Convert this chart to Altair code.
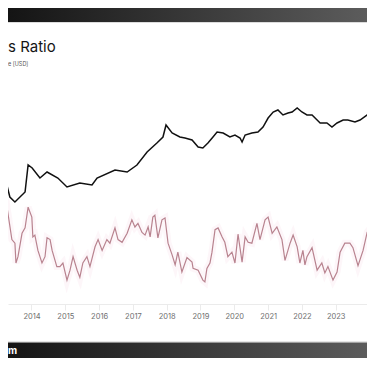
import altair as alt
import pandas as pd

# ---- data ----
price_year = [2013.07, 2013.27, 2013.36, 2013.51, 2013.81, 2013.90, 2014.02, 2014.25, 2014.46, 2014.78,
              2015.05, 2015.43, 2015.79, 2015.94, 2016.47, 2016.83, 2017.12, 2017.42, 2017.71, 2017.89,
              2017.98, 2018.16, 2018.39, 2018.54, 2018.75, 2018.93, 2019.07, 2019.22, 2019.37, 2019.49,
              2019.67, 2019.87, 2020.02, 2020.17, 2020.23, 2020.32, 2020.52, 2020.70, 2020.85, 2021.00,
              2021.15, 2021.29, 2021.44, 2021.59, 2021.71, 2021.86, 2022.00, 2022.15, 2022.30, 2022.45,
              2022.54, 2022.74, 2022.89, 2023.04, 2023.22, 2023.36, 2023.57, 2023.72, 2023.93, 2024.07,
              2024.16]
price_usd = [25, 232, 95, 66, 138, 1025, 820, 390, 610, 390,
             200, 269, 232, 390, 707, 610, 1025, 2692, 5250, 8200,
             20000, 11040, 8200, 7620, 6560, 3900, 3620, 5250, 8200, 11900,
             11040, 8200, 9510, 7620, 5660, 9510, 11040, 11900, 17200, 33600,
             52500, 61000, 42100, 48800, 52500, 70700, 52500, 42100, 42100, 29000,
             23200, 23200, 17200, 23200, 29000, 29000, 25000, 29000, 42100, 48800,
             70700]

ratio_year = [2013.07, 2013.16, 2013.28, 2013.30, 2013.42, 2013.51, 2013.54, 2013.60, 2013.72, 2013.81,
              2013.90, 2014.01, 2014.04, 2014.10, 2014.19, 2014.31, 2014.40, 2014.46, 2014.55, 2014.61,
              2014.75, 2014.84, 2014.93, 2015.05, 2015.14, 2015.23, 2015.35, 2015.43, 2015.52, 2015.64,
              2015.73, 2015.88, 2015.97, 2016.09, 2016.23, 2016.32, 2016.47, 2016.56, 2016.68, 2016.83,
              2016.97, 2017.06, 2017.15, 2017.27, 2017.36, 2017.45, 2017.51, 2017.59, 2017.65, 2017.74,
              2017.86, 2017.95, 2018.04, 2018.16, 2018.25, 2018.33, 2018.45, 2018.60, 2018.75, 2018.78,
              2018.93, 2019.07, 2019.13, 2019.19, 2019.28, 2019.34, 2019.43, 2019.52, 2019.64, 2019.72,
              2019.81, 2019.93, 2020.02, 2020.11, 2020.23, 2020.32, 2020.41, 2020.52, 2020.67, 2020.76,
              2020.91, 2021.00, 2021.12, 2021.26, 2021.41, 2021.50, 2021.65, 2021.74, 2021.86, 2021.94,
              2022.03, 2022.09, 2022.15, 2022.30, 2022.45, 2022.59, 2022.68, 2022.77, 2022.92, 2023.04,
              2023.13, 2023.27, 2023.42, 2023.51, 2023.66, 2023.81, 2023.93, 2024.01, 2024.10, 2024.16]
ratio_value = [0.64, 0.83, 0.91, 0.86, 0.56, 0.52, 0.30, 0.37, 0.63, 0.69,
               0.92, 0.81, 0.59, 0.61, 0.44, 0.30, 0.37, 0.58, 0.56, 0.44,
               0.26, 0.26, 0.30, 0.11, 0.22, 0.37, 0.22, 0.14, 0.30, 0.37,
               0.26, 0.48, 0.56, 0.44, 0.56, 0.52, 0.69, 0.56, 0.53, 0.63,
               0.78, 0.70, 0.74, 0.64, 0.61, 0.70, 0.59, 0.81, 0.83, 0.58,
               0.78, 0.80, 0.52, 0.39, 0.28, 0.42, 0.20, 0.36, 0.31, 0.24,
               0.22, 0.11, 0.09, 0.24, 0.30, 0.42, 0.67, 0.69, 0.59, 0.53,
               0.37, 0.42, 0.30, 0.62, 0.31, 0.59, 0.53, 0.52, 0.74, 0.56,
               0.78, 0.81, 0.63, 0.70, 0.56, 0.33, 0.52, 0.61, 0.48, 0.30,
               0.44, 0.28, 0.37, 0.47, 0.22, 0.30, 0.19, 0.26, 0.11, 0.20,
               0.42, 0.52, 0.52, 0.47, 0.27, 0.44, 0.64, 0.68, 0.59, 0.74]

year_ticks = [2014, 2015, 2016, 2017, 2018, 2019, 2020, 2021, 2022, 2023]
title_text = "s Ratio"
legend_text = "e [USD]"
footer_text = "m"

assert len(price_year) == len(price_usd)
assert len(ratio_year) == len(ratio_value)

price_df = pd.DataFrame({"year": price_year, "price": price_usd})
ratio_df = pd.DataFrame({"year": ratio_year, "ratio": ratio_value})
one = pd.DataFrame({"k": [0]})

W, H = 359, 350
FONT = "Inter"

x_enc = alt.X("year:Q",
              scale=alt.Scale(domain=[2013.305, 2023.926], nice=False, zero=False),
              axis=alt.Axis(values=year_ticks, format="d", title=None, grid=False,
                            offset=-54, domainColor="#ebebeb", tickColor="#ebebeb",
                            tickSize=6, labelFontSize=7.5, labelColor="#6f6f6f",
                            labelFont=FONT, labelPadding=2, labelFlush=False,
                            labelOverlap=False))

dark = alt.LinearGradient(gradient="linear",
                          stops=[alt.GradientStop(offset=0, color="#141414"),
                                 alt.GradientStop(offset=1, color="#5c5c5c")],
                          x1=0, x2=1, y1=0, y2=0)

header = alt.Chart(one).mark_rect(color=dark).encode(
    x=alt.value(0), x2=alt.value(W), y=alt.value(0), y2=alt.value(14))
header_line = alt.Chart(one).mark_rect(color="#dcdcdc").encode(
    x=alt.value(0), x2=alt.value(W), y=alt.value(14), y2=alt.value(15))
footer = alt.Chart(one).mark_rect(color=dark).encode(
    x=alt.value(0), x2=alt.value(W), y=alt.value(334.5), y2=alt.value(H))
footer_line = alt.Chart(one).mark_rect(color="#e6e6e6").encode(
    x=alt.value(0), x2=alt.value(W), y=alt.value(333), y2=alt.value(334.5))

ratio_scale = alt.Scale(domain=[-0.7556, 3.1333], nice=False, zero=False)
glow = alt.Chart(ratio_df).mark_line(color="#f7d3e0", strokeWidth=7, opacity=0.2, clip=True).encode(
    x=x_enc, y=alt.Y("ratio:Q", scale=ratio_scale, axis=None))
ratio_line = alt.Chart(ratio_df).mark_line(color="#b8838f", strokeWidth=1.2, clip=True).encode(
    x=x_enc, y=alt.Y("ratio:Q", scale=ratio_scale, axis=None))

price_line = alt.Chart(price_df).mark_line(color="#111111", strokeWidth=1.5, clip=True).encode(
    x=x_enc,
    y=alt.Y("price:Q", scale=alt.Scale(type="log", domain=[6.096e-4, 1.1892e8], nice=False), axis=None))

title = alt.Chart(pd.DataFrame({"t": [title_text]})).mark_text(
    align="left", baseline="middle", fontSize=15, font=FONT, color="#151515").encode(
    text="t:N", x=alt.value(0), y=alt.value(39))
legend = alt.Chart(pd.DataFrame({"t": [legend_text]})).mark_text(
    align="left", baseline="middle", fontSize=5.5, font=FONT, color="#555555").encode(
    text="t:N", x=alt.value(0), y=alt.value(56))
foot = alt.Chart(pd.DataFrame({"t": [footer_text]})).mark_text(
    align="left", baseline="middle", fontSize=10, font=FONT, fontWeight="bold", color="#ffffff").encode(
    text="t:N", x=alt.value(0), y=alt.value(343))

chart = alt.layer(header, header_line, footer_line, footer, glow, ratio_line, price_line,
                  title, legend, foot).resolve_scale(y="independent").properties(
    width=W, height=H, padding=0,
    autosize=alt.AutoSizeParams(type="none"),
    background="#ffffff",
).configure_view(stroke=None)

chart.save("out.html", embed_options={"renderer": "svg", "actions": False})
